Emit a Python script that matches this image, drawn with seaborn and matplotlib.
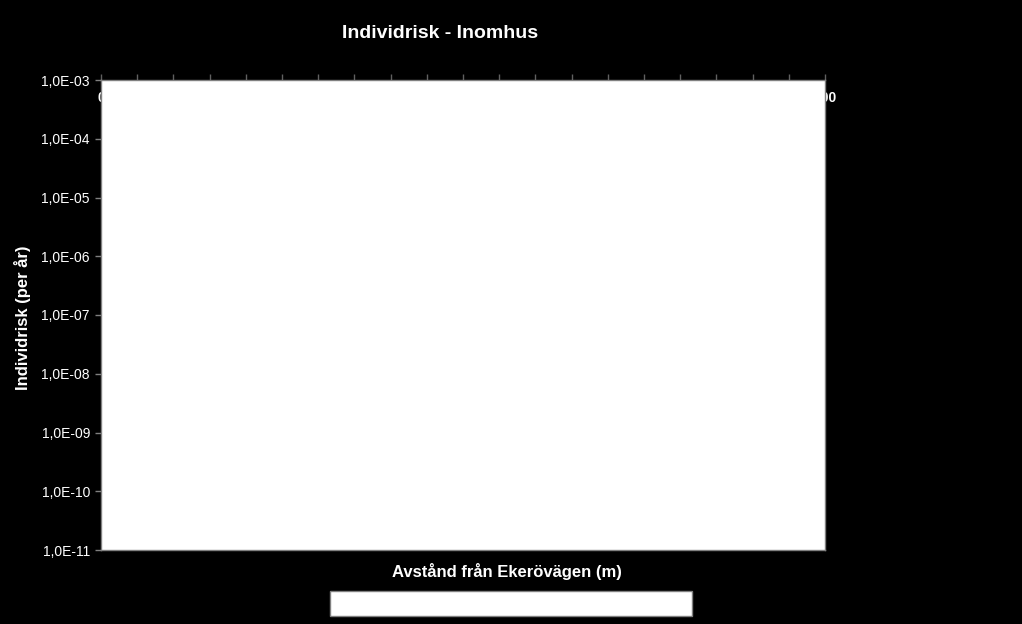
import matplotlib
matplotlib.use("Agg")
import matplotlib.pyplot as plt
import seaborn as sns
from matplotlib.patches import Rectangle
from matplotlib.ticker import FixedLocator, NullLocator

# ---- data ----
x_ticks = list(range(0, 101, 5))
x_tick_labels = [str(v) for v in x_ticks]
y_ticks = [1e-11, 1e-10, 1e-9, 1e-8, 1e-7, 1e-6, 1e-5, 1e-4, 1e-3]
y_tick_labels = ["1,0E-11", "1,0E-10", "1,0E-09", "1,0E-08", "1,0E-07",
                 "1,0E-06", "1,0E-05", "1,0E-04", "1,0E-03"]
distance = []   # no visible data points in the reference
risk = []

title = "Individrisk - Inomhus"
xlabel = "Avstånd från Ekerövägen (m)"
ylabel = "Individrisk (per år)"

sns.set_style("white")
plt.rcParams["font.family"] = ["Liberation Sans", "DejaVu Sans"]

fig = plt.figure(figsize=(10.22, 6.24), dpi=100, facecolor="black")
ax = fig.add_axes([101 / 1022, 1 - 550 / 624, 724 / 1022, 470 / 624])
ax.set_facecolor("white")

ax.plot(distance, risk, color="#000080")

ax.set_yscale("log")
ax.set_xlim(0, 100)
ax.set_ylim(1e-11, 1e-3)
ax.yaxis.set_major_locator(FixedLocator(y_ticks))
ax.yaxis.set_minor_locator(NullLocator())
ax.set_yticklabels(y_tick_labels)
ax.set_xticks(x_ticks)
ax.set_xticklabels(x_tick_labels)

for s in ax.spines.values():
    s.set_color("#808080")
    s.set_linewidth(1.0)

ax.tick_params(axis="y", direction="out", length=4, width=1, color="#808080",
               labelcolor="white", labelsize=10, pad=4, left=True)
ax.tick_params(axis="x", direction="out", length=4, width=1, color="#606060",
               labelcolor="white", labelsize=10, top=True, labeltop=True,
               bottom=False, labelbottom=False, pad=-22)
for lab in ax.get_xticklabels():
    lab.set_fontweight("bold")

fig.text(440 / 1022, 1 - 33 / 624, title, color="white", fontsize=14,
         fontweight="bold", ha="center", va="center")

ax.set_xlabel(xlabel, color="white", fontsize=12, fontweight="bold")
ax.xaxis.set_label_coords((507 - 101) / 724, -(572 - 550) / 470)
ax.xaxis.label.set_va("center")

ax.set_ylabel(ylabel, color="white", fontsize=12, fontweight="bold")
ax.yaxis.set_label_coords((23 - 101) / 724, (550 - 318) / 470)
ax.yaxis.label.set_va("center")

# empty legend box
fig.patches.append(Rectangle((330 / 1022, 1 - 616 / 624), 362 / 1022, 25 / 624,
                             transform=fig.transFigure, facecolor="white",
                             edgecolor="#808080", linewidth=1.0))

fig.savefig("out.png", dpi=100, facecolor="black")
